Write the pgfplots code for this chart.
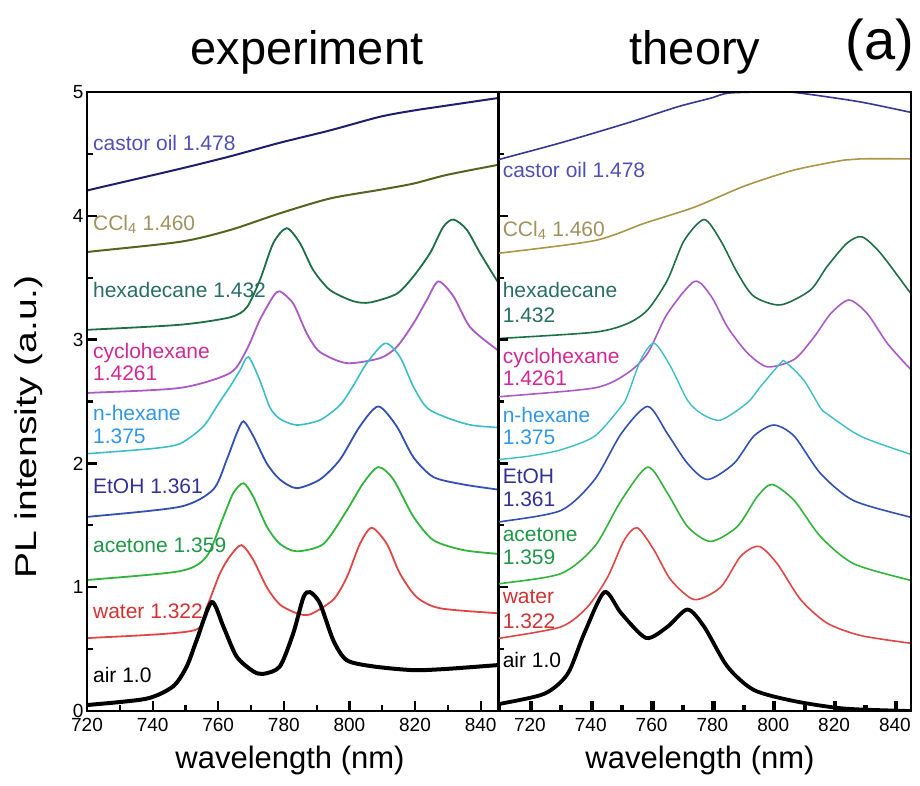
\documentclass[border=0pt]{standalone}
\usepackage{pgfplots}
\pgfplotsset{compat=1.18}
\usepackage{graphicx}
\usepackage{fontspec}
\setmainfont{Liberation Sans}

\definecolor{castorL}{RGB}{30,30,110}
\definecolor{castorT}{RGB}{55,55,150}
\definecolor{castorTx}{RGB}{80,80,180}
\definecolor{cclL}{RGB}{85,100,30}
\definecolor{cclT}{RGB}{170,150,70}
\definecolor{cclTx}{RGB}{160,145,95}
\definecolor{hexL}{RGB}{30,110,70}
\definecolor{hexTx}{RGB}{40,110,100}
\definecolor{cycL}{RGB}{170,90,200}
\definecolor{cycTx}{RGB}{210,40,150}
\definecolor{nhxL}{RGB}{60,190,200}
\definecolor{nhxTx}{RGB}{50,150,230}
\definecolor{etL}{RGB}{50,80,180}
\definecolor{etTx}{RGB}{50,50,150}
\definecolor{acL}{RGB}{50,180,60}
\definecolor{acTx}{RGB}{30,150,70}
\definecolor{waL}{RGB}{225,70,70}
\definecolor{waTx}{RGB}{210,50,50}

\pgfplotsset{
  panel/.style={
    scale only axis, height=619pt,
    anchor=south west,
    ymin=0, ymax=5,
    axis on top,
    axis line style={line width=2.2pt},
    xtick align=inside, ytick align=inside,
    xtick pos=left, ytick pos=left,
    xtick={720,740,...,840}, minor x tick num=1,
    ytick={0,1,2,3,4,5}, minor y tick num=1,
    tickwidth=10pt, subtickwidth=6pt,
    tick style={draw=black, line width=2.2pt},
    tick label style={font=\fontsize{19}{19}\selectfont},
    xticklabel style={yshift=-4pt},
    /pgf/number format/assume math mode=true,
    /pgf/number format/set thousands separator={},
  },
  sm/.style={smooth, tension=0.45},
}
\tikzset{lbl/.style={anchor=base west, inner sep=0pt, font=\fontsize{21}{21}\selectfont},
  tk/.style={line width=2.2pt, black}}

\begin{document}
\begin{tikzpicture}
\path[use as bounding box] (0pt,0pt) rectangle (920pt,785pt);

% ---------------- experiment ----------------
\begin{axis}[panel, at={(87pt,74pt)}, width=412pt, xmin=720, xmax=845.6]
\addplot[sm, castorL, line width=2pt] coordinates {(720,4.20)(720.9,4.21)(748.4,4.38)(763.6,4.48)(778.8,4.59)(794.1,4.69)(809.3,4.80)(819.5,4.85)(829.6,4.89)(845,4.95)(845.6,4.95)};
\addplot[sm, cclL, line width=2pt] coordinates {(720,3.70)(720.9,3.71)(748.4,3.79)(763.6,3.885)(778.8,4.02)(794.1,4.14)(809.3,4.21)(819.5,4.26)(829.6,4.33)(845,4.41)(845.6,4.41)};
\addplot[sm, hexL, line width=1.8pt] coordinates {(720,3.08)(720.9,3.08)(748.4,3.12)(763.6,3.18)(768.7,3.26)(772.7,3.48)(776.8,3.78)(780.9,3.90)(784.9,3.78)(789.0,3.56)(794.1,3.40)(801.2,3.31)(806.3,3.30)(814.4,3.37)(819.5,3.51)(824.6,3.70)(828.6,3.91)(831.7,3.97)(835.7,3.89)(839.8,3.70)(844.9,3.48)(845.6,3.46)};
\addplot[sm, cycL, line width=1.8pt] coordinates {(720,2.57)(720.9,2.57)(748.4,2.61)(763.6,2.73)(768.7,2.92)(772.7,3.16)(776.8,3.35)(778.8,3.39)(782.9,3.29)(787.0,3.05)(791.0,2.90)(799.2,2.81)(809.3,2.85)(814.4,2.94)(819.5,3.13)(823.6,3.32)(827.1,3.47)(831.7,3.35)(836.8,3.10)(844.9,2.92)(845.6,2.91)};
\addplot[sm, nhxL, line width=1.6pt] coordinates {(720,2.08)(720.9,2.08)(740,2.12)(748.4,2.16)(755.5,2.30)(760.5,2.50)(763.6,2.62)(766.6,2.75)(769.2,2.86)(772.7,2.67)(775.8,2.45)(778.8,2.36)(783.9,2.31)(791,2.35)(797.1,2.47)(801,2.62)(805.3,2.81)(810.9,2.97)(815.4,2.86)(819.5,2.62)(823.6,2.45)(829.6,2.37)(837,2.31)(845,2.29)(845.6,2.29)};
\addplot[sm, etL, line width=1.8pt] coordinates {(720,1.57)(720.9,1.57)(748.4,1.65)(758.5,1.79)(762.6,2.03)(765.6,2.24)(767.7,2.34)(770.7,2.22)(774.8,2.00)(778.8,1.87)(783.9,1.80)(791,1.87)(797.1,2.03)(803.2,2.30)(808.8,2.46)(814.4,2.30)(819.5,2.05)(825.6,1.89)(834.7,1.83)(844.9,1.79)(845.6,1.79)};
\addplot[sm, acL, line width=1.8pt] coordinates {(720,1.06)(720.9,1.06)(748.4,1.13)(756.5,1.25)(761.6,1.57)(764.6,1.76)(767.7,1.84)(770.7,1.73)(774.8,1.49)(778.8,1.35)(783.9,1.29)(792.1,1.35)(799.2,1.62)(804.2,1.84)(808.8,1.97)(813.4,1.87)(819.5,1.57)(825.6,1.38)(834.7,1.30)(844.9,1.27)(845.6,1.27)};
\addplot[sm, waL, line width=1.8pt] coordinates {(720,0.59)(720.9,0.59)(752.4,0.65)(756.5,0.84)(760.5,1.11)(763.6,1.25)(767.1,1.34)(770.7,1.22)(774.8,1.00)(778.8,0.86)(783.9,0.79)(788,0.78)(795.1,0.90)(799.2,1.08)(803.2,1.35)(806.8,1.48)(811.4,1.35)(815.4,1.11)(820.5,0.92)(827.6,0.83)(844.9,0.79)(845.6,0.79)};
\addplot[sm, black, line width=4pt] coordinates {(720,0.05)(720.9,0.05)(738.2,0.10)(746.3,0.20)(750.4,0.36)(753.4,0.57)(758.0,0.88)(761.6,0.68)(765.6,0.44)(770.7,0.32)(773.8,0.30)(778.8,0.36)(782.9,0.63)(786.0,0.92)(788.0,0.96)(791,0.87)(795.1,0.57)(799.2,0.41)(807.3,0.36)(819.5,0.33)(829.6,0.34)(844.9,0.37)(845.6,0.37)};

\node[lbl, text=castorTx] at (axis cs:721.8,4.53) {castor oil 1.478};
\node[lbl, text=cclTx] at (axis cs:721.8,3.885) {CCl\textsubscript{4} 1.460};
\node[lbl, text=hexTx] at (axis cs:721.8,3.34) {hexadecane 1.432};
\node[lbl, text=cycTx] at (axis cs:721.8,2.85) {cyclohexane};
\node[lbl, text=cycTx] at (axis cs:721.8,2.67) {1.4261};
\node[lbl, text=nhxTx] at (axis cs:721.8,2.35) {n-hexane};
\node[lbl, text=nhxTx] at (axis cs:721.8,2.16) {1.375};
\node[lbl, text=etTx] at (axis cs:721.8,1.76) {EtOH 1.361};
\node[lbl, text=acTx] at (axis cs:721.8,1.28) {acetone 1.359};
\node[lbl, text=waTx] at (axis cs:721.8,0.75) {water 1.322};
\node[lbl, text=black] at (axis cs:721.8,0.23) {air 1.0};
\end{axis}

% ---------------- theory ----------------
\begin{axis}[panel, at={(498pt,74pt)}, width=413pt, xmin=709.5, xmax=845.3, yticklabels={}]
\addplot[sm, castorT, line width=1.6pt] coordinates {(709.5,4.45)(710.6,4.46)(730.2,4.59)(752.1,4.75)(768.5,4.88)(779.4,4.95)(784.9,4.99)(795,5.0)(805,5.0)(812.2,4.98)(828.6,4.92)(844.4,4.84)(845.3,4.835)};
\addplot[sm, cclT, line width=1.6pt] coordinates {(709.5,3.70)(710.6,3.70)(741.3,3.80)(757.7,3.94)(774.1,4.07)(790.5,4.24)(806.9,4.37)(823.3,4.45)(828.7,4.46)(845.3,4.46)};
\addplot[sm, hexL, line width=1.6pt] coordinates {(709.5,3.01)(710.6,3.01)(741.3,3.06)(752.1,3.13)(758.7,3.24)(765.2,3.48)(770.7,3.80)(777.3,3.97)(782.7,3.80)(788.2,3.54)(793.6,3.35)(802.4,3.28)(812.2,3.40)(817.7,3.59)(824.3,3.78)(829.2,3.83)(835.2,3.70)(844.4,3.40)(845.3,3.37)};
\addplot[sm, cycL, line width=1.6pt] coordinates {(709.5,2.54)(710.6,2.54)(741.3,2.61)(752.1,2.73)(758.7,2.89)(765.2,3.21)(774.1,3.47)(779.6,3.35)(785.0,3.10)(791.6,2.89)(798.1,2.78)(806.9,2.84)(813.4,3.02)(818.9,3.21)(824.9,3.32)(830.9,3.21)(837.5,2.97)(844.4,2.78)(845.3,2.76)};
\addplot[sm, nhxL, line width=1.4pt] coordinates {(709.5,2.03)(720,2.06)(730.2,2.11)(741.3,2.22)(750.0,2.46)(752.1,2.55)(756.5,2.84)(760.9,2.97)(766.3,2.78)(771.8,2.51)(776.5,2.40)(782.7,2.35)(791.5,2.49)(795.8,2.62)(802.4,2.81)(804.0,2.82)(810.1,2.67)(815.5,2.45)(817.7,2.40)(828.7,2.22)(844.4,2.08)(845.3,2.08)};
\addplot[sm, etL, line width=1.6pt] coordinates {(709.5,1.53)(710.6,1.53)(730.2,1.62)(741.3,1.87)(750.0,2.24)(758.7,2.46)(765.2,2.24)(771.8,2.00)(778.4,1.87)(787.1,2.00)(793.6,2.22)(800.2,2.31)(806.9,2.22)(815.5,1.92)(826.4,1.70)(844.4,1.57)(845.3,1.57)};
\addplot[sm, acL, line width=1.6pt] coordinates {(709.5,1.03)(710.6,1.03)(730.2,1.11)(741.3,1.33)(750.0,1.70)(758.7,1.97)(765.2,1.76)(771.8,1.49)(779.4,1.37)(788.2,1.49)(794.7,1.73)(799.6,1.83)(806.9,1.70)(815.5,1.41)(826.4,1.19)(844.4,1.06)(845.3,1.06)};
\addplot[sm, waL, line width=1.6pt] coordinates {(709.5,0.59)(710.6,0.59)(730.2,0.68)(738.9,0.84)(745.5,1.08)(751.0,1.38)(755.3,1.48)(760.8,1.30)(766.3,1.06)(774.1,0.90)(782.7,1.00)(789.3,1.25)(795.3,1.33)(801.3,1.19)(809.0,0.90)(817.7,0.71)(828.7,0.61)(844.4,0.55)(845.3,0.55)};
\addplot[sm, black, line width=3.8pt] coordinates {(709.5,0.06)(710.6,0.06)(724.8,0.14)(732.4,0.30)(737.9,0.63)(744.5,0.96)(750.0,0.79)(758.2,0.59)(765.2,0.68)(771.8,0.82)(777.3,0.68)(784.9,0.36)(793.6,0.17)(806.9,0.08)(823.3,0.02)(844.4,0.0)(845.3,0.0)};

\node[lbl, text=castorTx] at (axis cs:711.0,4.31) {castor oil 1.478};
\node[lbl, text=cclTx] at (axis cs:711.0,3.83) {CCl\textsubscript{4} 1.460};
\node[lbl, text=hexTx] at (axis cs:711.0,3.34) {hexadecane};
\node[lbl, text=hexTx] at (axis cs:711.0,3.14) {1.432};
\node[lbl, text=cycTx] at (axis cs:711.0,2.81) {cyclohexane};
\node[lbl, text=cycTx] at (axis cs:711.0,2.63) {1.4261};
\node[lbl, text=nhxTx] at (axis cs:711.0,2.33) {n-hexane};
\node[lbl, text=nhxTx] at (axis cs:711.0,2.15) {1.375};
\node[lbl, text=etTx] at (axis cs:711.0,1.84) {EtOH};
\node[lbl, text=etTx] at (axis cs:711.0,1.65) {1.361};
\node[lbl, text=acTx] at (axis cs:711.0,1.37) {acetone};
\node[lbl, text=acTx] at (axis cs:711.0,1.18) {1.359};
\node[lbl, text=waTx] at (axis cs:711.0,0.87) {water};
\node[lbl, text=waTx] at (axis cs:711.0,0.67) {1.322};
\node[lbl, text=black] at (axis cs:711.0,0.35) {air 1.0};
\end{axis}

% frame ticks (inward), drawn on top
\foreach \t in {152.6,218.2,283.8,349.4,415.0,480.6,531.9,592.7,653.5,714.4,775.2,836.0,896.9}
  {\draw[tk] (\t pt,74pt) -- (\t pt,84pt);}
\foreach \t in {119.8,185.4,251.0,316.6,382.2,447.8,499.5,562.3,623.1,684.0,744.8,805.6,866.4}
  {\draw[tk] (\t pt,74pt) -- (\t pt,80pt);}
\foreach \t in {197.8,321.6,445.4,569.2}
  {\draw[tk] (87pt,\t pt) -- (97pt,\t pt); \draw[tk] (498pt,\t pt) -- (508pt,\t pt);}
\foreach \t in {135.9,259.7,383.5,507.3,631.1}
  {\draw[tk] (87pt,\t pt) -- (93pt,\t pt); \draw[tk] (498pt,\t pt) -- (504pt,\t pt);}

% titles and axis labels
\node[anchor=base, inner sep=0pt, font=\fontsize{47}{47}\selectfont] at (307pt,720pt) {experiment};
\node[anchor=base, inner sep=0pt, font=\fontsize{47}{47}\selectfont] at (695pt,720pt) {theory};
\node[anchor=base, inner sep=0pt, font=\fontsize{56}{56}\selectfont] at (880pt,725pt) {(a)};
\node[anchor=base, inner sep=0pt, font=\fontsize{31}{31}\selectfont] at (290pt,17pt) {wavelength (nm)};
\node[anchor=base, inner sep=0pt, font=\fontsize{31}{31}\selectfont] at (700pt,17pt) {wavelength (nm)};
\node[rotate=90, inner sep=0pt, font=\fontsize{30}{30}\selectfont] at (29pt,358pt) {\scalebox{1.3}[1]{PL intensity (a.u.)}};
\end{tikzpicture}
\end{document}
